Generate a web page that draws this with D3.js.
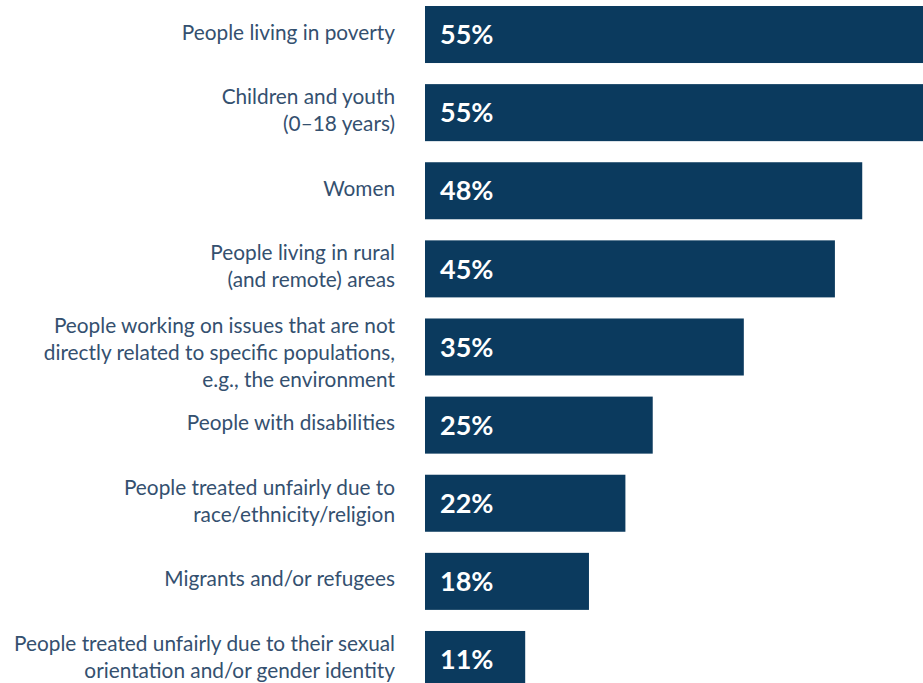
<!DOCTYPE html>
<html>
<head>
<meta charset="utf-8">
<script src="https://cdn.jsdelivr.net/npm/d3@7"></script>
<style>
  body { margin: 0; background: #fff; }
  svg { display: block; }
</style>
</head>
<body>
<div id="chart"></div>
<script>
/* DATA */
var categories = [
  "People living in poverty",
  "Children and youth\n(0–18 years)",
  "Women",
  "People living in rural\n(and remote) areas",
  "People working on issues that are not\ndirectly related to specific populations,\ne.g., the environment",
  "People with disabilities",
  "People treated unfairly due to\nrace/ethnicity/religion",
  "Migrants and/or refugees",
  "People treated unfairly due to their sexual\norientation and/or gender identity"
];
var values = [55, 55, 48, 45, 35, 25, 22, 18, 11];

/* CONSTANTS */
var width = 923,
    height = 683;
var barLeft = 425;

var data = categories.map(function(c, i) { return {cat: c, value: values[i]}; });

var xScale = d3.scaleLinear()
  .domain([0, 55])
  .range([barLeft, barLeft + 501]);

// step ~78px, bar ~57px tall
var yScale = d3.scaleBand()
  .domain(categories)
  .range([6, 688])
  .paddingInner(0.27)
  .paddingOuter(0);

var svg = d3.select("#chart").append("svg")
  .attr("width", width)
  .attr("height", height);

// bars
svg.selectAll(".bar")
  .data(data)
  .enter().append("rect")
  .attr("class", "bar")
  .attr("x", xScale(0))
  .attr("y", function(d) { return yScale(d.cat); })
  .attr("width", function(d) { return xScale(d.value) - xScale(0); })
  .attr("height", yScale.bandwidth())
  .attr("fill", "#0b3a5e");

// value labels
svg.selectAll(".val")
  .data(data)
  .enter().append("text")
  .attr("class", "val")
  .attr("x", xScale(0) + 15)
  .attr("y", function(d) { return yScale(d.cat) + yScale.bandwidth() / 2; })
  .attr("dy", "0.36em")
  .style("font-family", "Lato, 'Open Sans', sans-serif")
  .style("font-weight", "bold")
  .style("font-size", "27px")
  .style("fill", "#fff")
  .text(function(d) { return d.value + "%"; });

// category labels (baselines set directly)
var lineH = 27;
svg.selectAll(".cat")
  .data(data)
  .enter().append("text")
  .attr("class", "cat")
  .attr("text-anchor", "end")
  .style("font-family", "Lato, 'Open Sans', sans-serif")
  .style("font-size", "20.8px")
  .style("fill", "#34506f")
  .each(function(d) {
    var lines = d.cat.split("\n");
    var cy = yScale(d.cat) + yScale.bandwidth() / 2;
    var y0 = cy + 5 - (lines.length - 1) * lineH / 2 + (lines.length > 2 ? 8 : 0);
    var t = d3.select(this);
    lines.forEach(function(l, i) {
      t.append("tspan")
        .attr("x", 395)
        .attr("y", y0 + i * lineH)
        .text(l);
    });
  });
</script>
</body>
</html>
